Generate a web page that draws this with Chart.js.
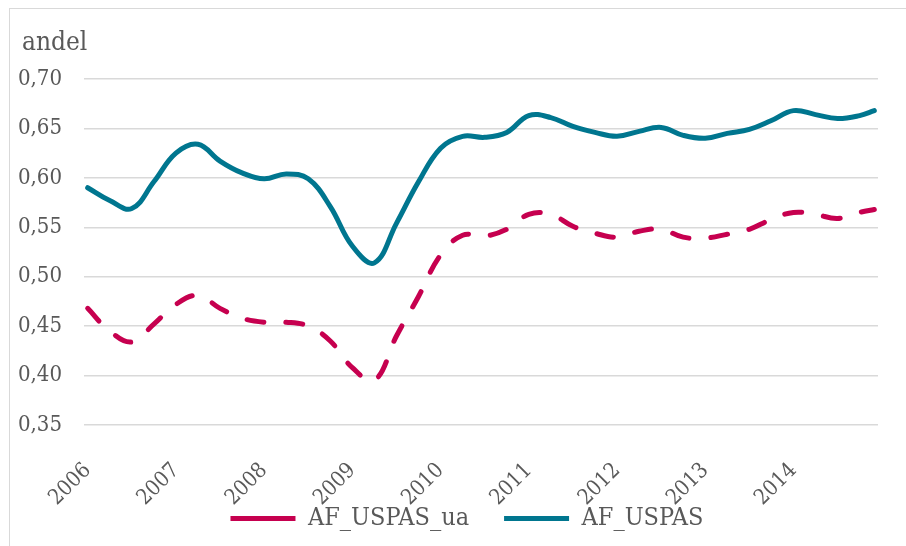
<!DOCTYPE html>
<html>
<head>
<meta charset="utf-8">
<script src="https://cdn.jsdelivr.net/npm/chart.js@4.4.0/dist/chart.umd.min.js"></script>
<style>
  html, body { margin: 0; padding: 0; background: #fff; }
  #wrap { position: relative; width: 906px; height: 546px; overflow: hidden; }
  #frame { position: absolute; left: 9px; top: 8px; width: 920px; height: 560px;
           border-left: 1.5px solid #d9d9d9; border-top: 1.5px solid #d9d9d9; }
  canvas { position: absolute; left: 0; top: 0; }
</style>
</head>
<body>
<div id="wrap">
  <div id="frame"></div>
  <canvas id="myChart" width="906" height="546"></canvas>
</div>
<script>
// months since Jan 2006 where the curves were read
const months = [0, 3, 6, 9, 12, 15, 18, 21, 24, 27, 30, 33, 36, 39, 42, 45, 48, 51, 54,
  57, 60, 63, 66, 69, 72, 75, 78, 81, 84, 87, 90, 93, 96, 99, 102, 105, 107];

const afUspasUa = [0.468, 0.445, 0.434, 0.452, 0.472, 0.481, 0.468, 0.458, 0.454, 0.454,
  0.450, 0.435, 0.408, 0.395, 0.440, 0.480, 0.522, 0.542, 0.541, 0.548, 0.563, 0.563,
  0.551, 0.544, 0.540, 0.546, 0.548, 0.540, 0.539, 0.543, 0.548, 0.558, 0.565, 0.563,
  0.559, 0.565, 0.568];

const afUspas = [0.590, 0.577, 0.569, 0.596, 0.625, 0.634, 0.617, 0.605, 0.599, 0.604,
  0.599, 0.571, 0.531, 0.514, 0.554, 0.596, 0.630, 0.642, 0.641, 0.646, 0.663, 0.661,
  0.652, 0.646, 0.642, 0.647, 0.651, 0.643, 0.640, 0.645, 0.649, 0.658, 0.668, 0.664,
  0.660, 0.663, 0.668];

const yearTicks = [0, 12, 24, 36, 48, 60, 72, 84, 96];
const yearLabels = ['2006', '2007', '2008', '2009', '2010', '2011', '2012', '2013', '2014'];

const serif = "'DejaVu Serif Condensed', 'DejaVu Serif', serif";
const textColor = '#595959';
const red = '#c6004f';
const blue = '#00768f';

const titlePlugin = {
  id: 'andel',
  afterLayout(chart) {
    // let the rotated year labels hang below the axis box, and nudge the legend right
    chart.scales.x.bottom = chart.scales.x.top + 85;
    chart.legend.left += 24;
    chart.legend.right += 24;
  },
  afterDraw(chart) {
    const c = chart.ctx;
    c.save();
    c.font = '26px ' + serif;
    c.fillStyle = textColor;
    c.textBaseline = 'alphabetic';
    c.fillText('andel', 22, 50);
    c.restore();
  }
};

const ctx = document.getElementById('myChart').getContext('2d');
new Chart(ctx, {
  type: 'line',
  data: {
    datasets: [
      {
        label: 'AF_USPAS_ua',
        data: months.map((m, i) => ({ x: m, y: afUspasUa[i] })),
        borderColor: red,
        backgroundColor: red,
        borderWidth: 5,
        borderDash: [17, 22],
        borderCapStyle: 'round',
        tension: 0.4,
        pointRadius: 0,
        pointStyle: 'line'
      },
      {
        label: 'AF_USPAS',
        data: months.map((m, i) => ({ x: m, y: afUspas[i] })),
        borderColor: blue,
        backgroundColor: blue,
        borderWidth: 5,
        borderCapStyle: 'round',
        tension: 0.4,
        pointRadius: 0,
        pointStyle: 'line'
      }
    ]
  },
  options: {
    responsive: false,
    animation: false,
    layout: { padding: { left: 8, right: 28, top: 79, bottom: 5 } },
    scales: {
      x: {
        type: 'linear',
        min: -0.5,
        max: 107.5,
        afterBuildTicks: s => { s.ticks = yearTicks.map(v => ({ value: v })); },
        afterFit: s => { s.height = 46; },
        ticks: {
          autoSkip: false,
          minRotation: 45,
          maxRotation: 45,
          padding: 25,
          color: textColor,
          font: { family: serif, size: 21.5 },
          callback: v => yearLabels[yearTicks.indexOf(v)]
        },
        grid: { display: false },
        border: { display: false }
      },
      y: {
        min: 0.35,
        max: 0.70,
        afterFit: s => { s.width = 76; },
        ticks: {
          stepSize: 0.05,
          padding: 22,
          color: textColor,
          font: { family: serif, size: 22 },
          callback: v => v.toFixed(2).replace('.', ',')
        },
        grid: { color: '#d9d9d9', lineWidth: 1.5, drawTicks: false },
        border: { display: false }
      }
    },
    plugins: {
      legend: {
        position: 'bottom',
        labels: {
          usePointStyle: true,
          pointStyleWidth: 65,
          padding: 35,
          color: textColor,
          font: { family: serif, size: 25 }
        }
      },
      tooltip: { enabled: false }
    }
  },
  plugins: [titlePlugin]
});
</script>
</body>
</html>
